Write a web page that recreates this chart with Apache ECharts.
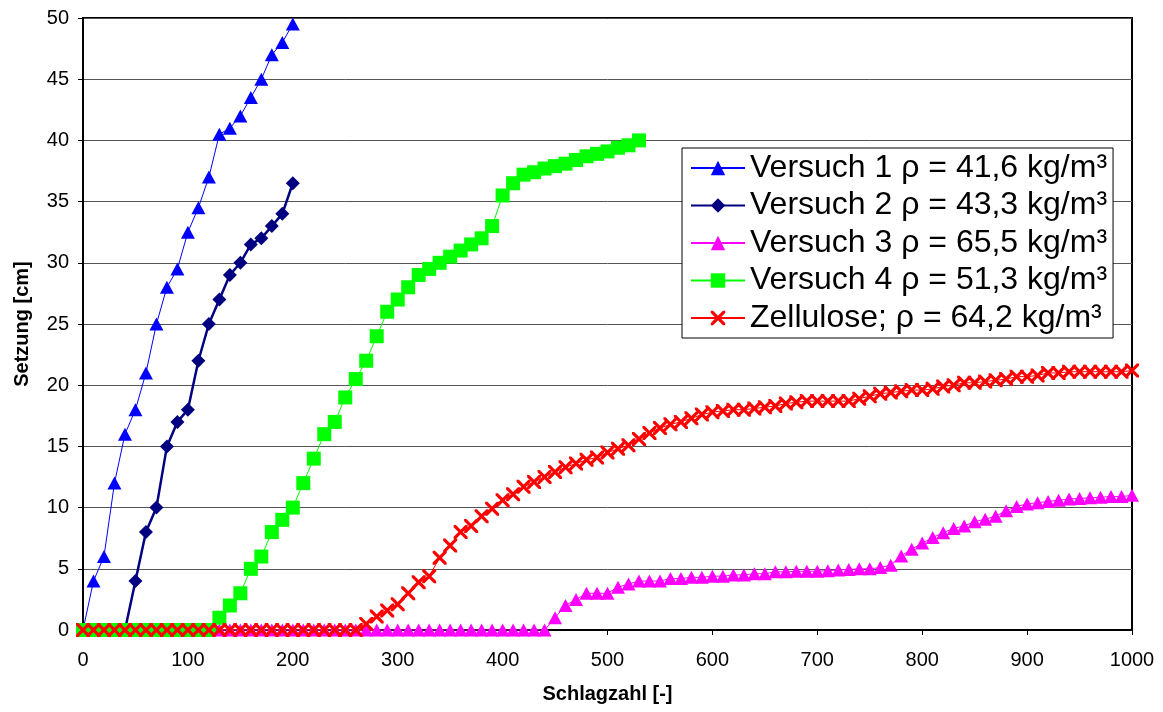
<!DOCTYPE html>
<html>
<head>
<meta charset="utf-8">
<script src="https://cdn.jsdelivr.net/npm/echarts@6/dist/echarts.min.js"></script>
<style>
html,body{margin:0;padding:0;background:#fff;}
#c{width:1163px;height:712px;}
</style>
</head>
<body>
<div id="c"></div>
<script>
// ---- data ----
const seriesNames = [
  'Versuch 1 ρ = 41,6 kg/m³',
  'Versuch 2 ρ = 43,3 kg/m³',
  'Versuch 3 ρ = 65,5 kg/m³',
  'Versuch 4 ρ = 51,3 kg/m³',
  'Zellulose; ρ = 64,2 kg/m³'
];
const xTicks = [0,100,200,300,400,500,600,700,800,900,1000];
const yTicks = [0,5,10,15,20,25,30,35,40,45,50];

const v1X = [0,10,20,30,40,50,60,70,80,90,100,110,120,130,140,150,160,170,180,190,200];
const v1Y = [0,4,6,12,16,18,21,25,28,29.5,32.5,34.5,37,40.5,41,42,43.5,45,47,48,49.5];

const v2X = [0,10,20,30,40,50,60,70,80,90,100,110,120,130,140,150,160,170,180,190,200];
const v2Y = [0,0,0,0,0,4,8,10,15,17,18,22,25,27,29,30,31.5,32,33,34,36.5];

const v3X = [0,10,20,30,40,50,60,70,80,90,100,110,120,130,140,150,160,170,180,190,200,
  210,220,230,240,250,260,270,280,290,300,310,320,330,340,350,360,370,380,390,400,
  410,420,430,440,450,460,470,480,490,500,510,520,530,540,550,560,570,580,590,600,
  610,620,630,640,650,660,670,680,690,700,710,720,730,740,750,760,770,780,790,800,
  810,820,830,840,850,860,870,880,890,900,910,920,930,940,950,960,970,980,990,1000];
const v3Y = [0,0,0,0,0,0,0,0,0,0,0,0,0,0,0,0,0,0,0,0,0,
  0,0,0,0,0,0,0,0,0,0,0,0,0,0,0,0,0,0,0,0,
  0,0,0,0,1.0,2.0,2.5,3.0,3.0,3.0,3.5,3.75,4.0,4.0,4.0,4.2,4.2,4.3,4.3,4.4,
  4.4,4.5,4.5,4.6,4.6,4.75,4.75,4.8,4.8,4.8,4.85,4.9,4.95,5.0,5.0,5.1,5.3,6.05,6.6,7.1,
  7.55,7.95,8.3,8.5,8.85,9.05,9.3,9.75,10.1,10.3,10.4,10.5,10.6,10.7,10.75,10.8,10.85,10.9,10.9,11.0];

const v4X = [0,10,20,30,40,50,60,70,80,90,100,110,120,130,140,150,160,170,180,190,200,
  210,220,230,240,250,260,270,280,290,300,310,320,330,340,350,360,370,380,390,400,
  410,420,430,440,450,460,470,480,490,500,510,520,530];
const v4Y = [0,0,0,0,0,0,0,0,0,0,0,0,0,1,2,3,5,6,8,9,10,
  12,14,16,17,19,20.5,22,24,26,27,28,29,29.5,30,30.5,31,31.5,32,33,35.5,
  36.5,37.2,37.4,37.7,37.9,38.1,38.4,38.7,38.9,39.1,39.4,39.6,40];

const zX = [0,10,20,30,40,50,60,70,80,90,100,110,120,130,140,150,160,170,180,190,200,
  210,220,230,240,250,260,270,280,290,300,310,320,330,340,350,360,370,380,390,400,
  410,420,430,440,450,460,470,480,490,500,510,520,530,540,550,560,570,580,590,600,
  610,620,630,640,650,660,670,680,690,700,710,720,730,740,750,760,770,780,790,800,
  810,820,830,840,850,860,870,880,890,900,910,920,930,940,950,960,970,980,990,1000];
const zY = [0,0,0,0,0,0,0,0,0,0,0,0,0,0,0,0,0,0,0,0,0,
  0,0,0,0,0,0,0.5,1.1,1.6,2.1,3.0,3.9,4.4,5.9,6.9,8.0,8.5,9.3,9.9,10.6,
  11.1,11.7,12.1,12.5,12.9,13.3,13.6,13.9,14.1,14.5,14.8,15.1,15.6,16.1,16.5,16.8,17.0,17.3,17.6,17.8,
  17.9,18.0,18.0,18.1,18.2,18.3,18.5,18.6,18.7,18.7,18.7,18.7,18.7,18.9,19.1,19.3,19.4,19.5,19.6,19.6,
  19.7,19.9,20.0,20.2,20.2,20.3,20.4,20.5,20.7,20.7,20.8,21.0,21.0,21.1,21.1,21.1,21.1,21.1,21.1,21.2];

function pairs(xs, ys){ return xs.map((x,i)=>[x, ys[i]]); }

const crossPath = 'path://M0,0L1.6,0L5,3.4L8.4,0L10,0L10,1.6L6.6,5L10,8.4L10,10L8.4,10L5,6.6L1.6,10L0,10L0,8.4L3.4,5L0,1.6Z';
const FONT = 'Liberation Sans, Arial, sans-serif';

const chart = echarts.init(document.getElementById('c'), null, {renderer:'canvas'});
chart.setOption({
  animation: false,
  backgroundColor: '#fff',
  grid: {left: 83, right: 31, top: 18, bottom: 82, show: true, borderColor: '#000', borderWidth: 2, backgroundColor: '#fff'},
  legend: {
    orient: 'vertical',
    left: 682, top: 148,
    padding: [4, 6, 4, 8],
    itemWidth: 54, itemHeight: 18, itemGap: 5.5,
    backgroundColor: '#fff', borderColor: '#000', borderWidth: 1,
    textStyle: {fontFamily: FONT, fontSize: 32, color: '#000', lineHeight: 32},
    data: seriesNames
  },
  xAxis: {
    type: 'value', min: xTicks[0], max: xTicks[xTicks.length-1], interval: 100,
    name: 'Schlagzahl [-]', nameLocation: 'middle', nameGap: 54,
    nameTextStyle: {fontFamily: FONT, fontSize: 20, fontWeight: 'bold', color: '#000'},
    axisLine: {show: true, lineStyle: {color: '#000', width: 2}},
    axisTick: {show: true, length: 5, lineStyle: {color: '#000'}},
    axisLabel: {fontFamily: FONT, fontSize: 20, color: '#000', margin: 20, formatter: v => String(v)},
    splitLine: {show: false}
  },
  yAxis: {
    type: 'value', min: yTicks[0], max: yTicks[yTicks.length-1], interval: 5,
    name: 'Setzung [cm]', nameLocation: 'middle', nameGap: 51,
    nameTextStyle: {fontFamily: FONT, fontSize: 20, fontWeight: 'bold', color: '#000'},
    axisLine: {show: true, lineStyle: {color: '#000', width: 2}},
    axisTick: {show: true, length: 5, lineStyle: {color: '#000'}},
    axisLabel: {fontFamily: FONT, fontSize: 20, color: '#000', margin: 14},
    splitLine: {show: true, lineStyle: {color: '#555', width: 1}}
  },
  series: [
    {name: seriesNames[0], type: 'line', data: pairs(v1X, v1Y), color: '#0000FF',
     symbol: 'triangle', symbolSize: [14, 13], showAllSymbol: true,
     lineStyle: {width: 1, color: '#0000FF'}, itemStyle: {color: '#0000FF'}},
    {name: seriesNames[1], type: 'line', data: pairs(v2X, v2Y), color: '#000080',
     symbol: 'diamond', symbolSize: [14, 14], showAllSymbol: true,
     lineStyle: {width: 2.5, color: '#000080'}, itemStyle: {color: '#000080'}},
    {name: seriesNames[2], type: 'line', data: pairs(v3X, v3Y), color: '#FF00FF',
     symbol: 'triangle', symbolSize: [14, 13], showAllSymbol: true,
     lineStyle: {width: 1, color: '#FF00FF'}, itemStyle: {color: '#FF00FF'}},
    {name: seriesNames[3], type: 'line', data: pairs(v4X, v4Y), color: '#00FF00',
     symbol: 'rect', symbolSize: [14, 14], showAllSymbol: true,
     lineStyle: {width: 1, color: '#00FF00'}, itemStyle: {color: '#00FF00'}},
    {name: seriesNames[4], type: 'line', data: pairs(zX, zY), color: '#FF0000',
     symbol: crossPath, symbolSize: [14, 14], showAllSymbol: true,
     lineStyle: {width: 1, color: '#FF0000'}, itemStyle: {color: '#FF0000'}}
  ]
});
</script>
</body>
</html>
